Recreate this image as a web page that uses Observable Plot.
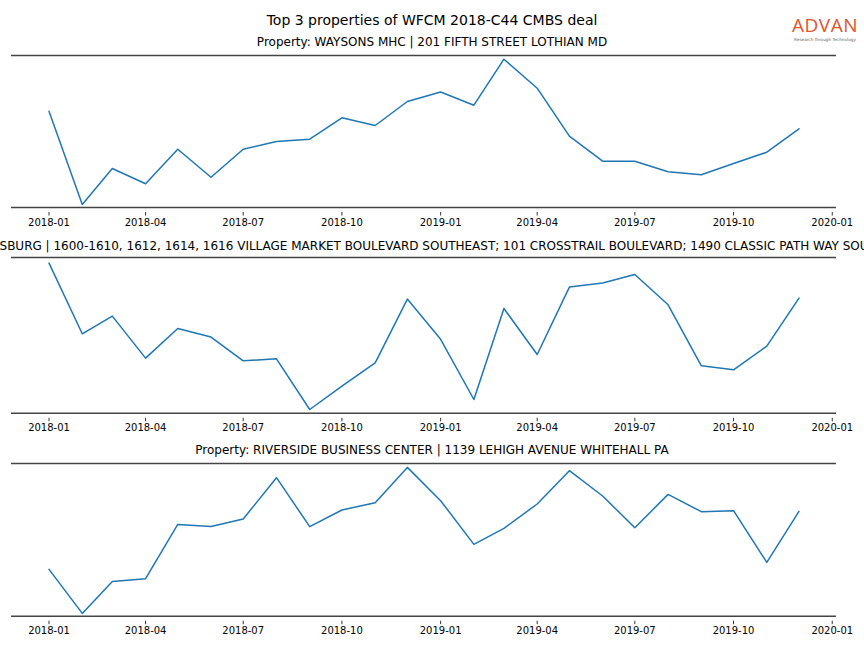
<!DOCTYPE html>
<html><head><meta charset="utf-8">
<script src="https://cdn.jsdelivr.net/npm/d3@7"></script>
<script src="https://cdn.jsdelivr.net/npm/@observablehq/plot@0.6"></script>
<style>
body{margin:0;background:#fff;font-family:"DejaVu Sans",sans-serif;}
#root{position:relative;width:864px;height:648px;overflow:hidden;background:#fff;}
.t{position:absolute;white-space:nowrap;width:max-content;color:#000;line-height:1;}
.p{position:absolute;left:0;}
#logo{position:absolute;left:791px;top:16px;width:68px;text-align:center;}
#logo .a{font-family:"Open Sans","Lato",sans-serif;font-size:19px;color:#e0542a;line-height:19px;height:19px;letter-spacing:0.5px;}
#logo .b{font-family:"DejaVu Sans",sans-serif;font-size:4.2px;color:#666;line-height:5px;margin-top:2px;white-space:nowrap;}
</style></head><body><div id="root"></div>
<script>
const suptitle = "Top 3 properties of WFCM 2018-C44 CMBS deal";
const titles = [
  "Property: WAYSONS MHC | 201 FIFTH STREET LOTHIAN MD",
  "Property: VILLAGE AT LEESBURG | 1600-1610, 1612, 1614, 1616 VILLAGE MARKET BOULEVARD SOUTHEAST; 101 CROSSTRAIL BOULEVARD; 1490 CLASSIC PATH WAY SOUTHEAST LEESBURG VA",
  "Property: RIVERSIDE BUSINESS CENTER | 1139 LEHIGH AVENUE WHITEHALL PA"
];
const months = ["2018-01","2018-02","2018-03","2018-04","2018-05","2018-06","2018-07","2018-08","2018-09","2018-10","2018-11","2018-12",
  "2019-01","2019-02","2019-03","2019-04","2019-05","2019-06","2019-07","2019-08","2019-09","2019-10","2019-11","2019-12"];
const prop1 = [96.3,3,39,23.7,58.3,30.3,58.3,66,68.3,89.7,82,106,115.5,102.3,148.3,119.3,71.3,46.3,46.3,35.7,32.7,44,55.3,78.7];
const prop2 = [150.2,79.5,97.2,55.2,84.8,76.2,52.5,54.5,3.8,27.2,50.5,114.2,74,13.8,104.8,58.8,126.2,130.2,138.8,108.5,47.5,43.5,67.2,115.2];
const prop3 = [46.8,2.8,34.8,37.5,91.8,89.8,97.2,138.5,89.5,106.2,113.5,148.8,115.5,71.8,87.8,112.2,145.5,120.2,88.5,121.8,104.5,105.5,53.8,104.8];
const yMax = [152, 155.8, 152.7];
const tickLabels = ["2018-01","2018-04","2018-07","2018-10","2019-01","2019-04","2019-07","2019-10","2020-01"];

const parse = d3.utcParse("%Y-%m");
const dates = months.map(parse);
const ticks = tickLabels.map(parse);
const span = dates[dates.length-1] - dates[0];
const xDomain = [new Date(+dates[0] - 0.05*span), new Date(+dates[dates.length-1] + 0.05*span)];

const root = document.getElementById("root");
function addText(txt, y, size, anchorWord){
  const d = document.createElement("div");
  d.className = "t"; d.textContent = txt;
  d.style.fontSize = size + "px";
  root.appendChild(d);
  const w = d.getBoundingClientRect().width;
  const h = d.getBoundingClientRect().height;
  let left = 432 - w / 2;
  d.style.left = left + "px";
  d.style.top = (y - h / 2) + "px";
  if (anchorWord) {
    // the reference shows this over-long title clipped so that this word starts at the left edge
    const node = d.firstChild, idx = txt.indexOf(anchorWord);
    const r = document.createRange();
    r.setStart(node, idx); r.setEnd(node, idx + 1);
    const rl = r.getBoundingClientRect().left - root.getBoundingClientRect().left;
    d.style.left = (left - rl - 0.5) + "px";
  }
}
addText(suptitle, 19.5, 14);

const series = [prop1, prop2, prop3];
const frameTop = [54.7, 256.7, 462.8];
const titleY = [42, 246, 450];
const anchors = [null, "SBURG |", null];
series.forEach((vals, i) => {
  addText(titles[i], titleY[i], 12, anchors[i]);
  const data = vals.map((v, j) => ({date: dates[j], value: v}));
  const H = yMax[i];
  const mt = 2, mb = 30;
  const chart = Plot.plot({
    width: 864, height: mt + H + mb,
    marginLeft: 11, marginRight: 28, marginTop: mt, marginBottom: mb,
    x: {type: "utc", domain: xDomain},
    y: {domain: [0, H], axis: null},
    style: {fontFamily: "DejaVu Sans", fontSize: "10px", color: "#000", background: "transparent", overflow: "visible"},
    marks: [
      Plot.ruleY([0, H], {stroke: "#444", strokeWidth: 1.6}),
      Plot.lineY(data, {x: "date", y: "value", stroke: "#1f77b4", strokeWidth: 1.5}),
      Plot.axisX({ticks: ticks, tickFormat: d3.utcFormat("%Y-%m"), tickSize: 3.5, tickPadding: 2.5, dy: 5, fontSize: 10, stroke: "#000", strokeWidth: 0.8})
    ]
  });
  const wrap = document.createElement("div");
  wrap.className = "p";
  wrap.style.top = (frameTop[i] - mt) + "px";
  wrap.appendChild(chart);
  root.appendChild(wrap);
});

const logo = document.createElement("div");
logo.id = "logo";
logo.innerHTML = '<div class="a">ADVAN</div><div class="b">Research through Technology</div>';
root.appendChild(logo);
</script>
</body></html>
